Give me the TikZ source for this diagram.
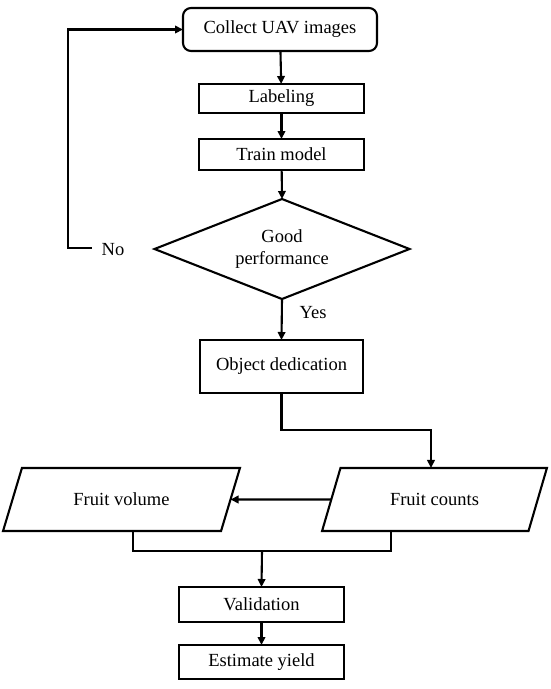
\documentclass[tikz,border=0pt]{standalone}
\usepackage{fontspec}
\setmainfont{Liberation Serif}
\usetikzlibrary{shapes.geometric,arrows.meta}
\begin{document}
\begin{tikzpicture}[x=1pt,y=-1pt,
  every node/.style={font=\fontsize{18.5}{22}\selectfont, inner sep=0pt, outer sep=0pt},
  box/.style={draw, line width=2.1pt, align=center},
  para/.style={draw, line width=2.1pt, trapezium, trapezium left angle=55, trapezium right angle=125, trapezium stretches=true, minimum width=225, minimum height=63},
  arr/.style={line width=2.1pt, -{Triangle[length=8pt,width=7.5pt]}},
  ln/.style={line width=2.1pt}]
\useasboundingbox (0,0) rectangle (550,689);
\node[box, rounded corners=8pt, minimum width=194, minimum height=43] (collect) at (280,29.5) {Collect UAV images};
\node[box, minimum width=165, minimum height=29] (label) at (281.5,98.5) {Labeling};
\node[box, minimum width=165, minimum height=31] (train) at (281.5,154.5) {Train model};
\node[box, diamond, aspect=2.55, minimum width=255, minimum height=100] (dia) at (282,249) {Good\\performance};
\node (no) at (113,250) {No};
\node (yes) at (313,313) {Yes};
\node[box, minimum width=163, minimum height=53] (od) at (281.5,366.5) {Object dedication};
\node[para, minimum width=237] (fv) at (121.5,499.5) {Fruit volume};
\node[para] (fc) at (434.5,499.5) {Fruit counts};
\node[box, minimum width=165, minimum height=35] (val) at (261.5,604.5) {Validation};
\node[box, minimum width=165, minimum height=34] (est) at (261.5,662) {Estimate yield};
\coordinate (loopx) at (69,248);
\coordinate (odx) at (431,430);
\coordinate (j1) at (133,551);
\coordinate (j2) at (391,551);
\coordinate (jm) at (262,551);
\draw[arr] (collect) -- (label);
\draw[arr] (label) -- (train);
\draw[arr] (train) -- (dia.north);
\draw[arr] (no.west) ++(-10,-2) -- ++(-24,0) |- (collect.west);
\draw[arr] (dia.south) -- (od.north);
\draw[arr] (od.south) |- (odx) -- (odx |- fc.north);
\draw[arr] (fc.west) -- (fv.east);
\draw[ln] (j1 |- fv.south) -- (j1) -- (j2) -- (j2 |- fc.south);
\draw[arr] (jm) -- (val.north);
\draw[arr] (val) -- (est);
\end{tikzpicture}
\end{document}
